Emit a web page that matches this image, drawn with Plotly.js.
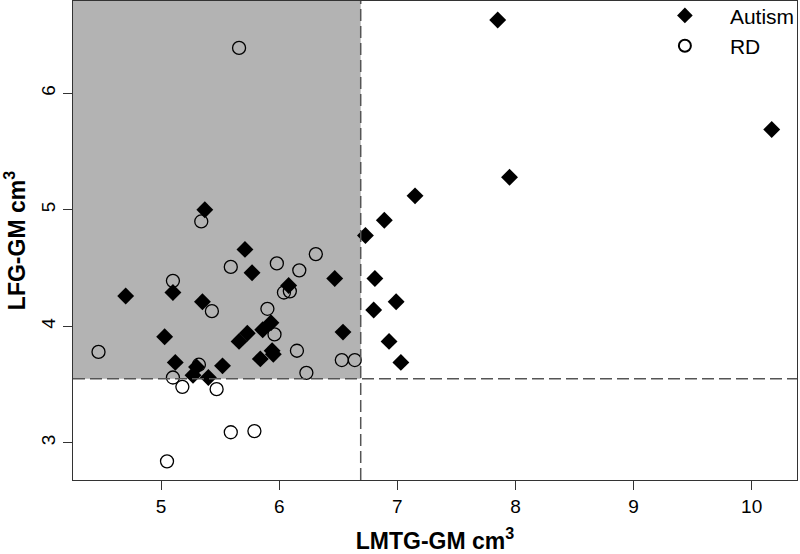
<!DOCTYPE html>
<html>
<head>
<meta charset="utf-8">
<script src="https://cdn.plot.ly/plotly-3.0.1.min.js"></script>
<style>
  body { margin: 0; background: #fff; }
  #chart { width: 800px; height: 554px; }
</style>
</head>
<body>
<div id="chart"></div>
<script>
// Autism group: LMTG-GM (x) vs LFG-GM (y), cm^3
var autismX = [7.85, 10.17, 7.95, 7.15, 5.37, 6.89, 6.73, 5.71, 5.77, 6.47, 6.81,
    6.08, 5.10, 4.70, 5.35, 6.99, 6.80, 5.93, 5.86, 6.54, 5.73, 5.03, 5.66, 6.93,
    5.94, 5.95, 5.84, 5.12, 7.03, 5.52, 5.30, 5.27, 5.40];
var autismY = [6.63, 5.69, 5.28, 5.12, 5.00, 4.91, 4.78, 4.66, 4.46, 4.41, 4.41,
    4.35, 4.29, 4.26, 4.21, 4.21, 4.14, 4.03, 3.97, 3.95, 3.94, 3.91, 3.87, 3.87,
    3.79, 3.76, 3.72, 3.69, 3.69, 3.66, 3.65, 3.58, 3.56];

// RD group
var rdX = [5.66, 5.34, 6.31, 5.98, 5.59, 6.17, 5.10, 6.09, 6.04, 5.90, 5.43, 5.96,
    6.15, 4.47, 6.53, 6.64, 5.32, 6.23, 5.10, 5.18, 5.47, 5.79, 5.59, 5.05];
var rdY = [6.39, 4.90, 4.62, 4.54, 4.51, 4.48, 4.39, 4.30, 4.29, 4.15, 4.13, 3.93,
    3.79, 3.78, 3.71, 3.71, 3.67, 3.60, 3.56, 3.48, 3.46, 3.10, 3.09, 2.84];

// cut-off lines
var cutX = 6.69;
var cutY = 3.55;

var xRange = [4.254, 10.384];
var yRange = [2.68, 6.793];
var xTicks = [5, 6, 7, 8, 9, 10];
var yTicks = [3, 4, 5, 6];

var data = [
    {
        x: autismX,
        y: autismY,
        type: "scatter",
        mode: "markers",
        name: "Autism",
        marker: { symbol: "diamond", size: 13, color: "#000000" }
    },
    {
        x: rdX,
        y: rdY,
        type: "scatter",
        mode: "markers",
        name: "RD",
        marker: {
            symbol: "circle-open",
            size: 13,
            color: "#000000",
            line: { width: 1.3, color: "#000000" }
        }
    }
];

var dash = { color: "#555555", width: 1.5, dash: "12px,5px" };

var layout = {
    width: 800,
    height: 554,
    paper_bgcolor: "#ffffff",
    plot_bgcolor: "#ffffff",
    margin: { l: 73, r: 3, t: 1, b: 74, autoexpand: false },
    font: { family: "Liberation Sans, Arial, sans-serif", color: "#000000" },
    showlegend: true,
    legend: {
        x: 0.783,
        y: 1.012,
        xanchor: "left",
        yanchor: "top",
        bgcolor: "rgba(0,0,0,0)",
        font: { size: 21 },
        itemwidth: 80,
        itemsizing: "constant",
        tracegroupgap: 0
    },
    xaxis: {
        range: xRange,
        tickvals: xTicks,
        ticks: "outside",
        ticklen: 9,
        tickcolor: "#333333",
        tickfont: { size: 19 },
        showgrid: false,
        zeroline: false,
        showline: true,
        mirror: true,
        linecolor: "#333333",
        linewidth: 1.3,
        title: {
            text: "<b>LMTG-GM cm<sup>3</sup></b>",
            font: { size: 23 },
            standoff: 16
        }
    },
    yaxis: {
        range: yRange,
        tickvals: yTicks,
        ticks: "outside",
        ticklen: 9,
        tickcolor: "#333333",
        tickangle: -90,
        tickfont: { size: 19 },
        showgrid: false,
        zeroline: false,
        showline: true,
        mirror: true,
        linecolor: "#333333",
        linewidth: 1.3,
        title: {
            text: "<b>LFG-GM cm<sup>3</sup></b>",
            font: { size: 23 },
            standoff: 10
        }
    },
    shapes: [
        {
            type: "rect",
            layer: "below",
            xref: "x", yref: "y",
            x0: xRange[0], x1: cutX,
            y0: cutY, y1: yRange[1],
            fillcolor: "#b3b3b3",
            line: { width: 0 }
        },
        {
            type: "line",
            xref: "x", yref: "y",
            x0: xRange[0], x1: xRange[1],
            y0: cutY, y1: cutY,
            line: dash
        },
        {
            type: "line",
            xref: "x", yref: "y",
            x0: cutX, x1: cutX,
            y0: yRange[0], y1: yRange[1],
            line: dash
        }
    ]
};

Plotly.newPlot("chart", data, layout, { displayModeBar: false, staticPlot: true });
</script>
</body>
</html>
